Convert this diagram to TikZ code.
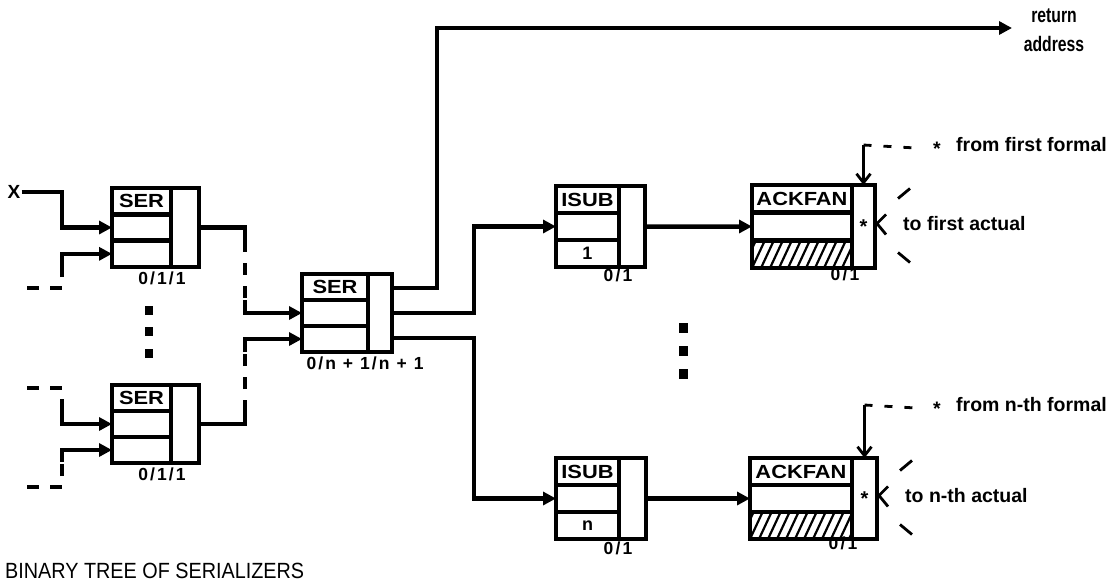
\documentclass[tikz,border=0pt]{standalone}
\usepackage{fontspec}
\setmainfont{Liberation Sans}
\newfontfamily\boxfont[FakeStretch=1.15]{Liberation Sans}
\newfontfamily\narrowfont[FakeStretch=0.75]{Liberation Sans}
\newfontfamily\titlefont[FakeStretch=0.9]{Liberation Sans}
\newfontfamily\spacedfont[LetterSpace=12]{Liberation Sans}
\usetikzlibrary{arrows.meta,calc}
\tikzset{
  cell/.style={draw, line width=4.5pt, inner sep=0pt, outer sep=0pt, anchor=north west},
  conn/.style={line width=4.5pt},
  arr/.style={conn, -{Triangle[length=13pt,width=13pt]}},
  dsh/.style={conn, dash pattern=on 12pt off 11pt},
  fine/.style={line width=2.8pt},
  finedash/.style={fine, dash pattern=on 8pt off 12pt},
  barb/.style={fine, -{Straight Barb[length=9pt,width=14pt]}},
  lab/.style={font=\bfseries\fontsize{19.5}{21}\selectfont, inner sep=0pt},
  cnt/.style={font=\spacedfont\bfseries\fontsize{17.5}{19}\selectfont, inner sep=0pt},
  dotbox/.style={fill, minimum width=8pt, minimum height=9pt, inner sep=0pt},
}
% name, x, y, left width, right width, height, label, bottom-cell text, right-cell text
\newcommand\tribox[9]{%
  \node[cell, minimum width=#4pt, minimum height=#6pt/3] (#1-l) at (#2,#3)
    {\boxfont\bfseries\fontsize{19}{19}\selectfont #7};
  \node[cell, minimum width=#4pt, minimum height=#6pt/3] (#1-a) at (#1-l.south west) {};
  \node[cell, minimum width=#4pt, minimum height=#6pt/3] (#1-b) at (#1-a.south west)
    {\bfseries\fontsize{18}{18}\selectfont #8};
  \node[cell, minimum width=#5pt, minimum height=#6pt] (#1-r) at (#1-l.north east)
    {\bfseries\fontsize{20}{20}\selectfont #9};
}
\begin{document}
\begin{tikzpicture}[x=1pt,y=-1pt]
\useasboundingbox (0,0) rectangle (1120,587);

% boxes
\tribox{s1}{112}{188}{59}{28}{79}{SER}{}{}
\tribox{s2}{112}{385}{59}{28}{78}{SER}{}{}
\tribox{sm}{302}{274}{66}{24}{78}{SER}{}{}
\tribox{i1}{556}{186}{63}{26}{81}{ISUB}{1}{}
\tribox{in}{556}{458}{63}{27}{81}{ISUB}{n}{}
\tribox{a1}{752}{185}{100}{23}{83}{ACKFAN}{}{*}
\tribox{an}{750}{458}{102}{25}{81}{ACKFAN}{}{*}

% hatching
\foreach \b in {a1-b,an-b}{
  \begin{scope}
    \clip (\b.north west) rectangle (\b.south east);
    \foreach \i in {-4,...,12}
      \draw[line width=2.2pt] ($(\b.south west)+(\i*9,0)$) -- ++(14,-30);
  \end{scope}
}

% counters
\node[cnt] (c1) at (162,278) {0/1/1};
\node[cnt] (c2) at (162,474) {0/1/1};
\node[cnt] (cm) at (365,363) {0/n + 1/n + 1};
\node[cnt] (ci1) at (618,275) {0/1};
\node[cnt] (cin) at (618,548) {0/1};
\node[cnt] (ca1) at (845,274) {0/1};
\node[cnt] (can) at (843,543) {0/1};

% inputs of the left serializers
\node[font=\bfseries\fontsize{19}{19}\selectfont, inner sep=1pt] (X) at (14,192) {X};
\draw[arr] (X.east) -| ([xshift=-50pt]s1-a.west) -- (s1-a.west);
\coordinate (u1) at (27,288);
\draw[dsh] (u1) -- (62,288) -- (62,266);
\draw[arr] (62,266) |- (s1-b.west);
\coordinate (u2) at (27,388);
\draw[dsh] (u2) -- (62,388) -- (62,410);
\draw[arr] (62,410) |- (s2-a.west);
\coordinate (u3) at (27,487);
\draw[dsh] (u3) -- (62,487) -- (62,462);
\draw[arr] (62,462) |- (s2-b.west);

% left serializers to middle one
\draw[conn] (s1-r.east) -| (245,240);
\draw[dsh] (245,240) -- (245,300);
\draw[arr] (245,300) |- (sm-a.west);
\draw[conn] (s2-r.east) -| (245,412);
\draw[dsh] (245,412) -- (245,352);
\draw[arr] (245,352) |- (sm-b.west);

% vertical ellipses
\node[dotbox] (e1) at (149,310) {};
\node[dotbox] (e2) at (149,331) {};
\node[dotbox] (e3) at (149,353) {};
\node[dotbox, minimum width=9pt, minimum height=10pt] (f1) at (683,328) {};
\node[dotbox, minimum width=9pt, minimum height=10pt] (f2) at (683,351) {};
\node[dotbox, minimum width=9pt, minimum height=10pt] (f3) at (683,374) {};

% outputs of the middle serializer
\node[font=\narrowfont\bfseries\fontsize{21}{29}\selectfont, align=center, inner sep=0pt] (ret) at (1054,30) {return\\address};
\coordinate (rtip) at (1012,28);
\draw[arr] ([yshift=25pt]sm-r.east) -| (437,28) -- (rtip);
\draw[arr] (sm-r.east) -| ([xshift=-82pt]i1-a.west) -- (i1-a.west);
\draw[arr] ([yshift=-25pt]sm-r.east) -| ([xshift=-82pt]in-a.west) -- (in-a.west);
\draw[arr] (i1-r.east) -- (a1-a.west);
\draw[arr] (in-r.east) -- (an-a.west);

% formal / actual annotations
\foreach \a/\y/\f/\t in {a1/145/first/first, an/405/n-th/n-th}{
  \node[lab] (\a st) at (937,\y+4) {*};
  \node[lab, anchor=west] (\a ff) at (956,\y) {from \f\ formal};
  \coordinate (\a k) at (\a-r.north |- {(0,\y)});
  \draw[finedash, shorten >=10pt] (\a k) -- (\a st.west);
  \draw[barb] (\a k) -- (\a-r.north);
  \draw[fine] ($(\a-r.east)+(23,-28)$) -- ++(12,-10);
  \draw[fine] ($(\a-r.east)+(11,-12)$) -- ($(\a-r.east)+(2,-3)$) -- ($(\a-r.east)+(11,8)$);
  \draw[fine] ($(\a-r.east)+(23,26)$) -- ++(12,10);
  \node[lab, anchor=west] (\a ta) at ($(\a-r.east)+(28,-3)$) {to \t\ actual};
}

% title
\node[anchor=base west, font=\titlefont\fontsize{22}{24}\selectfont, inner sep=0pt] (title) at (5,578) {BINARY TREE OF SERIALIZERS};
\end{tikzpicture}
\end{document}
